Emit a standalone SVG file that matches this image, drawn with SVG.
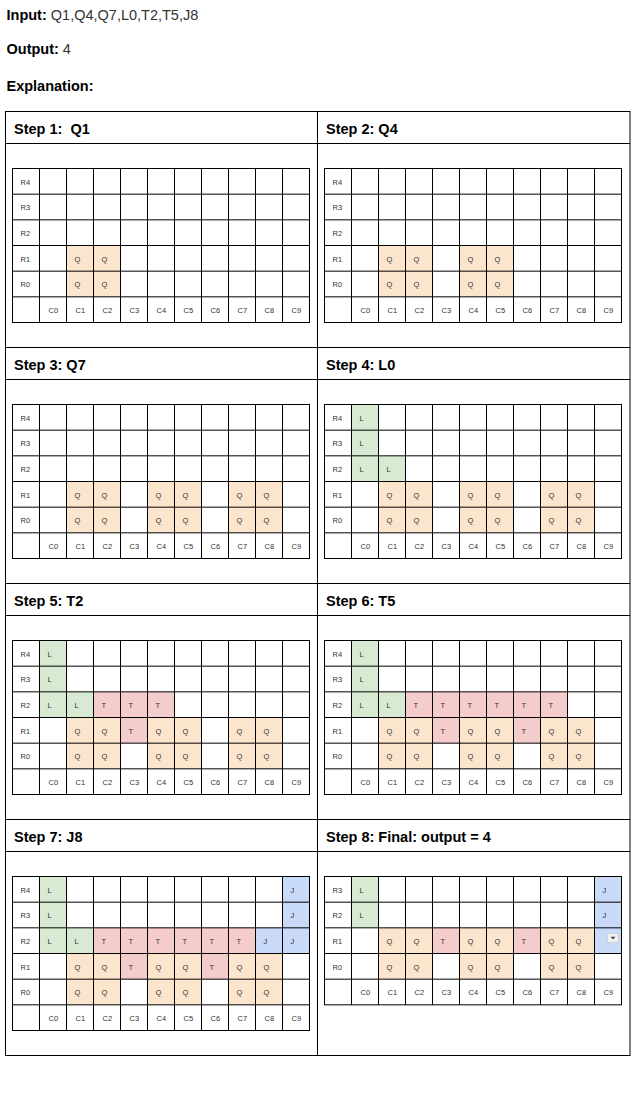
<svg xmlns="http://www.w3.org/2000/svg" xmlns:xlink="http://www.w3.org/1999/xlink" width="643" height="1093" viewBox="0 0 643 1093">
<style>
.hd{font-family:"Liberation Sans",Arial,sans-serif;font-size:14.5px;fill:#333}
.b{font-weight:bold;fill:#000}
.tt{font-family:"Liberation Sans",Arial,sans-serif;font-size:14.5px;font-weight:bold;fill:#000;white-space:pre}
.c{font-family:"Liberation Sans",Arial,sans-serif;font-size:7.5px;fill:#333}
.q{fill:#fce5cd}.l{fill:#d9ead3}.t{fill:#f4cccc}.j{fill:#c9daf8}
.ln{fill:none;stroke:#000;stroke-width:1}
</style>
<defs>
<g id="grid6" class="ln">
<rect x="0" y="0" width="297" height="154"/>
<path d="M27 0V154M54 0V154M81 0V154M108 0V154M135 0V154M162 0V154M189 0V154M216 0V154M243 0V154M270 0V154M0 25.67H297M0 51.33H297M0 77H297M0 102.67H297M0 128.33H297"/>
</g>
<g id="grid5" class="ln">
<rect x="0" y="0" width="297" height="128.33"/>
<path d="M27 0V128.33M54 0V128.33M81 0V128.33M108 0V128.33M135 0V128.33M162 0V128.33M189 0V128.33M216 0V128.33M243 0V128.33M270 0V128.33M0 25.67H297M0 51.33H297M0 77H297M0 102.67H297"/>
</g>
</defs>
<rect width="643" height="1093" fill="#fff"/>
<g id="header">
<text class="hd" x="6.5" y="19.5"><tspan class="b">Input:</tspan> Q1,Q4,Q7,L0,T2,T5,J8</text>
<text class="hd" x="6.5" y="54"><tspan class="b">Output:</tspan> 4</text>
<text class="hd b" x="6.5" y="90.5">Explanation:</text>
</g>
<g id="frame" class="ln">
<rect x="5.5" y="111.5" width="624.5" height="944"/>
<path d="M317.5 111.5V1055.5M5.5 143.5H630M5.5 347.5H630M5.5 379.5H630M5.5 583.5H630M5.5 615.5H630M5.5 819.5H630M5.5 851.5H630"/>
</g>
<g id="titles">
<text class="tt" x="14" y="133.5">Step 1:  Q1</text>
<text class="tt" x="326" y="133.5">Step 2: Q4</text>
<text class="tt" x="14" y="369.5">Step 3: Q7</text>
<text class="tt" x="326" y="369.5">Step 4: L0</text>
<text class="tt" x="14" y="605.5">Step 5: T2</text>
<text class="tt" x="326" y="605.5">Step 6: T5</text>
<text class="tt" x="14" y="841.5">Step 7: J8</text>
<text class="tt" x="326" y="841.5">Step 8: Final: output = 4</text>
</g>

<g id="step1" transform="translate(12.5,168.5)">
<rect class="q" x="54" y="77" width="54" height="51.33"/>
<use xlink:href="#grid6" href="#grid6"/>
<g class="c">
<text x="8" y="16">R4</text><text x="8" y="41.67">R3</text><text x="8" y="67.33">R2</text><text x="8" y="93">R1</text><text x="8" y="118.67">R0</text>
<text x="36" y="144.33">C0</text><text x="63" y="144.33">C1</text><text x="90" y="144.33">C2</text><text x="117" y="144.33">C3</text><text x="144" y="144.33">C4</text><text x="171" y="144.33">C5</text><text x="198" y="144.33">C6</text><text x="225" y="144.33">C7</text><text x="252" y="144.33">C8</text><text x="279" y="144.33">C9</text>
<text x="62" y="93">Q</text><text x="89" y="93">Q</text>
<text x="62" y="118.67">Q</text><text x="89" y="118.67">Q</text>
</g>
</g>

<g id="step2" transform="translate(324.5,168.5)">
<rect class="q" x="54" y="77" width="54" height="51.33"/>
<rect class="q" x="135" y="77" width="54" height="51.33"/>
<use xlink:href="#grid6" href="#grid6"/>
<g class="c">
<text x="8" y="16">R4</text><text x="8" y="41.67">R3</text><text x="8" y="67.33">R2</text><text x="8" y="93">R1</text><text x="8" y="118.67">R0</text>
<text x="36" y="144.33">C0</text><text x="63" y="144.33">C1</text><text x="90" y="144.33">C2</text><text x="117" y="144.33">C3</text><text x="144" y="144.33">C4</text><text x="171" y="144.33">C5</text><text x="198" y="144.33">C6</text><text x="225" y="144.33">C7</text><text x="252" y="144.33">C8</text><text x="279" y="144.33">C9</text>
<text x="62" y="93">Q</text><text x="89" y="93">Q</text><text x="143" y="93">Q</text><text x="170" y="93">Q</text>
<text x="62" y="118.67">Q</text><text x="89" y="118.67">Q</text><text x="143" y="118.67">Q</text><text x="170" y="118.67">Q</text>
</g>
</g>

<g id="step3" transform="translate(12.5,404.5)">
<rect class="q" x="54" y="77" width="54" height="51.33"/>
<rect class="q" x="135" y="77" width="54" height="51.33"/>
<rect class="q" x="216" y="77" width="54" height="51.33"/>
<use xlink:href="#grid6" href="#grid6"/>
<g class="c">
<text x="8" y="16">R4</text><text x="8" y="41.67">R3</text><text x="8" y="67.33">R2</text><text x="8" y="93">R1</text><text x="8" y="118.67">R0</text>
<text x="36" y="144.33">C0</text><text x="63" y="144.33">C1</text><text x="90" y="144.33">C2</text><text x="117" y="144.33">C3</text><text x="144" y="144.33">C4</text><text x="171" y="144.33">C5</text><text x="198" y="144.33">C6</text><text x="225" y="144.33">C7</text><text x="252" y="144.33">C8</text><text x="279" y="144.33">C9</text>
<text x="62" y="93">Q</text><text x="89" y="93">Q</text><text x="143" y="93">Q</text><text x="170" y="93">Q</text><text x="224" y="93">Q</text><text x="251" y="93">Q</text>
<text x="62" y="118.67">Q</text><text x="89" y="118.67">Q</text><text x="143" y="118.67">Q</text><text x="170" y="118.67">Q</text><text x="224" y="118.67">Q</text><text x="251" y="118.67">Q</text>
</g>
</g>

<g id="step4" transform="translate(324.5,404.5)">
<rect class="q" x="54" y="77" width="54" height="51.33"/>
<rect class="q" x="135" y="77" width="54" height="51.33"/>
<rect class="q" x="216" y="77" width="54" height="51.33"/>
<rect class="l" x="27" y="0" width="27" height="77"/>
<rect class="l" x="54" y="51.33" width="27" height="25.67"/>
<use xlink:href="#grid6" href="#grid6"/>
<g class="c">
<text x="8" y="16">R4</text><text x="8" y="41.67">R3</text><text x="8" y="67.33">R2</text><text x="8" y="93">R1</text><text x="8" y="118.67">R0</text>
<text x="36" y="144.33">C0</text><text x="63" y="144.33">C1</text><text x="90" y="144.33">C2</text><text x="117" y="144.33">C3</text><text x="144" y="144.33">C4</text><text x="171" y="144.33">C5</text><text x="198" y="144.33">C6</text><text x="225" y="144.33">C7</text><text x="252" y="144.33">C8</text><text x="279" y="144.33">C9</text>
<text x="35" y="16">L</text><text x="35" y="41.67">L</text><text x="35" y="67.33">L</text><text x="62" y="67.33">L</text>
<text x="62" y="93">Q</text><text x="89" y="93">Q</text><text x="143" y="93">Q</text><text x="170" y="93">Q</text><text x="224" y="93">Q</text><text x="251" y="93">Q</text>
<text x="62" y="118.67">Q</text><text x="89" y="118.67">Q</text><text x="143" y="118.67">Q</text><text x="170" y="118.67">Q</text><text x="224" y="118.67">Q</text><text x="251" y="118.67">Q</text>
</g>
</g>

<g id="step5" transform="translate(12.5,640.5)">
<rect class="q" x="54" y="77" width="54" height="51.33"/>
<rect class="q" x="135" y="77" width="54" height="51.33"/>
<rect class="q" x="216" y="77" width="54" height="51.33"/>
<rect class="l" x="27" y="0" width="27" height="77"/>
<rect class="l" x="54" y="51.33" width="27" height="25.67"/>
<rect class="t" x="81" y="51.33" width="81" height="25.67"/>
<rect class="t" x="108" y="77" width="27" height="25.67"/>
<use xlink:href="#grid6" href="#grid6"/>
<g class="c">
<text x="8" y="16">R4</text><text x="8" y="41.67">R3</text><text x="8" y="67.33">R2</text><text x="8" y="93">R1</text><text x="8" y="118.67">R0</text>
<text x="36" y="144.33">C0</text><text x="63" y="144.33">C1</text><text x="90" y="144.33">C2</text><text x="117" y="144.33">C3</text><text x="144" y="144.33">C4</text><text x="171" y="144.33">C5</text><text x="198" y="144.33">C6</text><text x="225" y="144.33">C7</text><text x="252" y="144.33">C8</text><text x="279" y="144.33">C9</text>
<text x="35" y="16">L</text><text x="35" y="41.67">L</text><text x="35" y="67.33">L</text><text x="62" y="67.33">L</text>
<text x="89" y="67.33">T</text><text x="116" y="67.33">T</text><text x="143" y="67.33">T</text>
<text x="62" y="93">Q</text><text x="89" y="93">Q</text><text x="116" y="93">T</text><text x="143" y="93">Q</text><text x="170" y="93">Q</text><text x="224" y="93">Q</text><text x="251" y="93">Q</text>
<text x="62" y="118.67">Q</text><text x="89" y="118.67">Q</text><text x="143" y="118.67">Q</text><text x="170" y="118.67">Q</text><text x="224" y="118.67">Q</text><text x="251" y="118.67">Q</text>
</g>
</g>

<g id="step6" transform="translate(324.5,640.5)">
<rect class="q" x="54" y="77" width="54" height="51.33"/>
<rect class="q" x="135" y="77" width="54" height="51.33"/>
<rect class="q" x="216" y="77" width="54" height="51.33"/>
<rect class="l" x="27" y="0" width="27" height="77"/>
<rect class="l" x="54" y="51.33" width="27" height="25.67"/>
<rect class="t" x="81" y="51.33" width="162" height="25.67"/>
<rect class="t" x="108" y="77" width="27" height="25.67"/>
<rect class="t" x="189" y="77" width="27" height="25.67"/>
<use xlink:href="#grid6" href="#grid6"/>
<g class="c">
<text x="8" y="16">R4</text><text x="8" y="41.67">R3</text><text x="8" y="67.33">R2</text><text x="8" y="93">R1</text><text x="8" y="118.67">R0</text>
<text x="36" y="144.33">C0</text><text x="63" y="144.33">C1</text><text x="90" y="144.33">C2</text><text x="117" y="144.33">C3</text><text x="144" y="144.33">C4</text><text x="171" y="144.33">C5</text><text x="198" y="144.33">C6</text><text x="225" y="144.33">C7</text><text x="252" y="144.33">C8</text><text x="279" y="144.33">C9</text>
<text x="35" y="16">L</text><text x="35" y="41.67">L</text><text x="35" y="67.33">L</text><text x="62" y="67.33">L</text>
<text x="89" y="67.33">T</text><text x="116" y="67.33">T</text><text x="143" y="67.33">T</text><text x="170" y="67.33">T</text><text x="197" y="67.33">T</text><text x="224" y="67.33">T</text>
<text x="62" y="93">Q</text><text x="89" y="93">Q</text><text x="116" y="93">T</text><text x="143" y="93">Q</text><text x="170" y="93">Q</text><text x="197" y="93">T</text><text x="224" y="93">Q</text><text x="251" y="93">Q</text>
<text x="62" y="118.67">Q</text><text x="89" y="118.67">Q</text><text x="143" y="118.67">Q</text><text x="170" y="118.67">Q</text><text x="224" y="118.67">Q</text><text x="251" y="118.67">Q</text>
</g>
</g>

<g id="step7" transform="translate(12.5,876.5)">
<rect class="q" x="54" y="77" width="54" height="51.33"/>
<rect class="q" x="135" y="77" width="54" height="51.33"/>
<rect class="q" x="216" y="77" width="54" height="51.33"/>
<rect class="l" x="27" y="0" width="27" height="77"/>
<rect class="l" x="54" y="51.33" width="27" height="25.67"/>
<rect class="t" x="81" y="51.33" width="162" height="25.67"/>
<rect class="t" x="108" y="77" width="27" height="25.67"/>
<rect class="t" x="189" y="77" width="27" height="25.67"/>
<rect class="j" x="270" y="0" width="27" height="77"/>
<rect class="j" x="243" y="51.33" width="27" height="25.67"/>
<use xlink:href="#grid6" href="#grid6"/>
<g class="c">
<text x="8" y="16">R4</text><text x="8" y="41.67">R3</text><text x="8" y="67.33">R2</text><text x="8" y="93">R1</text><text x="8" y="118.67">R0</text>
<text x="36" y="144.33">C0</text><text x="63" y="144.33">C1</text><text x="90" y="144.33">C2</text><text x="117" y="144.33">C3</text><text x="144" y="144.33">C4</text><text x="171" y="144.33">C5</text><text x="198" y="144.33">C6</text><text x="225" y="144.33">C7</text><text x="252" y="144.33">C8</text><text x="279" y="144.33">C9</text>
<text x="35" y="16">L</text><text x="35" y="41.67">L</text><text x="35" y="67.33">L</text><text x="62" y="67.33">L</text>
<text x="278" y="16">J</text><text x="278" y="41.67">J</text><text x="251" y="67.33">J</text><text x="278" y="67.33">J</text>
<text x="89" y="67.33">T</text><text x="116" y="67.33">T</text><text x="143" y="67.33">T</text><text x="170" y="67.33">T</text><text x="197" y="67.33">T</text><text x="224" y="67.33">T</text>
<text x="62" y="93">Q</text><text x="89" y="93">Q</text><text x="116" y="93">T</text><text x="143" y="93">Q</text><text x="170" y="93">Q</text><text x="197" y="93">T</text><text x="224" y="93">Q</text><text x="251" y="93">Q</text>
<text x="62" y="118.67">Q</text><text x="89" y="118.67">Q</text><text x="143" y="118.67">Q</text><text x="170" y="118.67">Q</text><text x="224" y="118.67">Q</text><text x="251" y="118.67">Q</text>
</g>
</g>

<g id="step8" transform="translate(324.5,876.5)">
<rect class="q" x="54" y="51.33" width="54" height="51.34"/>
<rect class="q" x="135" y="51.33" width="54" height="51.34"/>
<rect class="q" x="216" y="51.33" width="54" height="51.34"/>
<rect class="l" x="27" y="0" width="27" height="51.33"/>
<rect class="t" x="108" y="51.33" width="27" height="25.67"/>
<rect class="t" x="189" y="51.33" width="27" height="25.67"/>
<rect class="j" x="270" y="0" width="27" height="77"/>
<use xlink:href="#grid5" href="#grid5"/>
<g class="c">
<text x="8" y="16">R3</text><text x="8" y="41.67">R2</text><text x="8" y="67.33">R1</text><text x="8" y="93">R0</text>
<text x="36" y="118.67">C0</text><text x="63" y="118.67">C1</text><text x="90" y="118.67">C2</text><text x="117" y="118.67">C3</text><text x="144" y="118.67">C4</text><text x="171" y="118.67">C5</text><text x="198" y="118.67">C6</text><text x="225" y="118.67">C7</text><text x="252" y="118.67">C8</text><text x="279" y="118.67">C9</text>
<text x="35" y="16">L</text><text x="35" y="41.67">L</text>
<text x="278" y="16">J</text><text x="278" y="41.67">J</text>
<text x="62" y="67.33">Q</text><text x="89" y="67.33">Q</text><text x="116" y="67.33">T</text><text x="143" y="67.33">Q</text><text x="170" y="67.33">Q</text><text x="197" y="67.33">T</text><text x="224" y="67.33">Q</text><text x="251" y="67.33">Q</text>
<text x="62" y="93">Q</text><text x="89" y="93">Q</text><text x="143" y="93">Q</text><text x="170" y="93">Q</text><text x="224" y="93">Q</text><text x="251" y="93">Q</text>
</g>
<g id="dropdown">
<rect x="283" y="57" width="11" height="9" fill="#f1f1f1" stroke="#c6c6c6" stroke-width="0.7"/>
<path d="M286 60.3H291L288.5 63Z" fill="#444"/>
</g>
</g>
</svg>
